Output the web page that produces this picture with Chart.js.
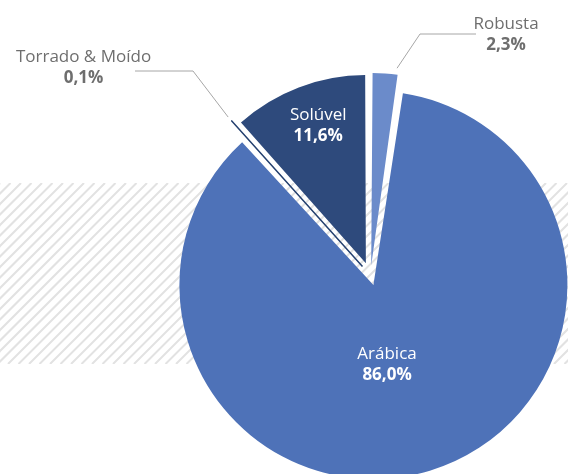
<!DOCTYPE html>
<html lang="pt">
<head>
<meta charset="utf-8">
<title>Café</title>
<script src="https://cdn.jsdelivr.net/npm/chart.js@4.4.1/dist/chart.umd.min.js"></script>
<style>
  html, body { margin: 0; padding: 0; background: #fff; }
  canvas { display: block; }
</style>
</head>
<body>
<canvas id="coffee-chart" width="568" height="474"></canvas>
<script>
// Dados
const categories = ["Robusta", "Arábica", "Torrado & Moído", "Solúvel"];
const shares = [2.3, 86.0, 0.1, 11.6];

// Cores das fatias
const sliceColors = ["#6b8bca", "#4e72b8", "#24406f", "#2e4a7c"];

const fmt = (v) => v.toFixed(1).replace(".", ",") + "%";

// faixa hachurada ao fundo
const hatchBand = {
  id: "hatchBand",
  beforeDraw(chart) {
    const { ctx, width } = chart;
    const top = 183, h = 181;
    ctx.save();
    ctx.beginPath();
    ctx.rect(0, top, width, h);
    ctx.clip();
    ctx.strokeStyle = "#e2e2e2";
    ctx.lineWidth = 2;
    for (let x = -h; x < width + h; x += 10.5) {
      ctx.beginPath();
      ctx.moveTo(x, top + h);
      ctx.lineTo(x + h, top);
      ctx.stroke();
    }
    ctx.restore();
  },
};

// rótulos (dentro e fora das fatias)
const sliceLabels = {
  id: "sliceLabels",
  afterDatasetsDraw(chart, args, opts) {
    const { ctx } = chart;
    const meta = chart.getDatasetMeta(0);
    ctx.save();
    ctx.textAlign = "center";
    ctx.textBaseline = "alphabetic";
    meta.data.forEach((arc, i) => {
      const cfg = opts.layout[i];
      if (!cfg) return;
      const d = (arc.options.offset || 0) / 4;
      const mid = (arc.startAngle + arc.endAngle) / 2;
      const ax = arc.x + Math.cos(mid) * d;
      const ay = arc.y + Math.sin(mid) * d;
      let tx, ty;
      if (cfg.inside) {
        const a = mid + cfg.turn * Math.PI / 180;
        const r = arc.outerRadius * cfg.frac;
        tx = ax + Math.cos(a) * r;
        ty = ay + Math.sin(a) * r;
        ctx.fillStyle = "#ffffff";
      } else {
        const a = arc.startAngle + (arc.endAngle - arc.startAngle) * cfg.at;
        const r = arc.outerRadius + d + 5;
        ctx.strokeStyle = "#a6a6a6";
        ctx.lineWidth = 1;
        ctx.beginPath();
        ctx.moveTo(ax + Math.cos(a) * r, ay + Math.sin(a) * r);
        ctx.lineTo(cfg.elbow[0], cfg.elbow[1]);
        ctx.lineTo(cfg.endX, cfg.elbow[1]);
        ctx.stroke();
        tx = cfg.text[0];
        ty = cfg.text[1];
        ctx.fillStyle = "#6e6e6e";
      }
      ctx.font = "17px 'Open Sans'";
      ctx.fillText(categories[i], tx, ty - 4.5);
      ctx.font = "bold 17px 'Open Sans'";
      ctx.fillText(fmt(shares[i]), tx, ty + 16.5);
    });
    ctx.restore();
  },
};

const ctx = document.getElementById("coffee-chart");
const coffeeChart = new Chart(ctx, {
  type: "pie",
  data: {
    labels: categories,
    datasets: [
      {
        data: shares,
        backgroundColor: sliceColors,
        borderColor: "#24406f",
        borderWidth: [0, 0, 1.5, 0],
        offset: [40, 40, 48, 52],
        hoverOffset: 0,
        radius: 184,
        clip: false,
      },
    ],
  },
  options: {
    responsive: false,
    animation: false,
    layout: { padding: { left: 173, top: 77, right: 0, bottom: 0 } },
    plugins: {
      legend: { display: false },
      tooltip: { enabled: false },
      sliceLabels: {
        layout: [
          { inside: false, at: 0.9, elbow: [420, 34], endX: 476, text: [506, 33.5] },
          { inside: true, frac: 0.43, turn: 7 },
          { inside: false, at: 0.5, elbow: [193, 71], endX: 135, text: [83.5, 66.5] },
          { inside: true, frac: 0.8, turn: 2 },
        ],
      },
    },
  },
  plugins: [hatchBand, sliceLabels],
});
</script>
</body>
</html>
